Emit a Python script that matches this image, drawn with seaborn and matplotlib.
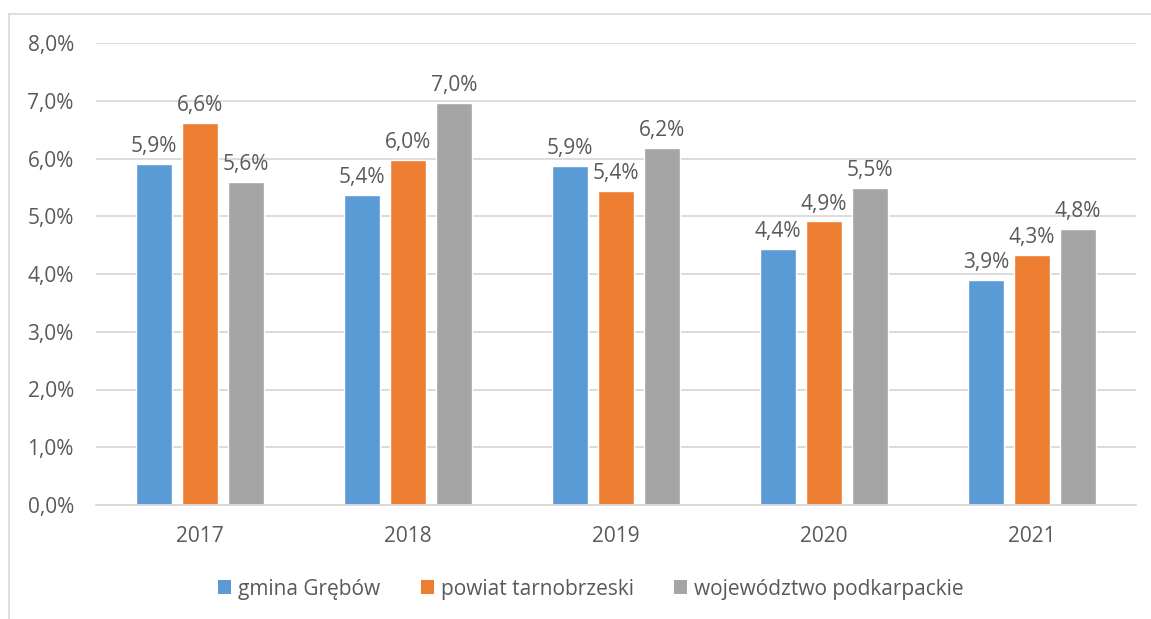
import matplotlib
matplotlib.use("Agg")
import matplotlib.pyplot as plt
import seaborn as sns
import pandas as pd
from matplotlib.lines import Line2D
from matplotlib.patches import Patch
from matplotlib.ticker import FuncFormatter, MultipleLocator

years = ["2017", "2018", "2019", "2020", "2021"]
series = ["gmina Grębów", "powiat tarnobrzeski", "województwo podkarpackie"]
gmina = [5.90, 5.37, 5.87, 4.43, 3.90]
powiat = [6.62, 5.97, 5.43, 4.91, 4.33]
wojewodztwo = [5.59, 6.96, 6.18, 5.49, 4.78]
colors = ["#5B9BD5", "#ED7D31", "#A5A5A5"]

rows = []
for name, vals in zip(series, [gmina, powiat, wojewodztwo]):
    for y, v in zip(years, vals):
        rows.append({"rok": y, "seria": name, "wartosc": v})
df = pd.DataFrame(rows)

sns.set_theme(style="white")
plt.rcParams["font.family"] = ["Open Sans", "DejaVu Sans"]
txt = "#595959"
grid = "#D9D9D9"
fs = 15

fig = plt.figure(figsize=(11.51, 6.19), dpi=100)
ax = fig.add_axes([96 / 1151, 1 - 505 / 619, (1136 - 96) / 1151, (505 - 43) / 619])

sns.barplot(data=df, x="rok", y="wartosc", hue="seria", hue_order=series,
            palette=colors, width=0.664, gap=0.217, ax=ax, legend=False,
            saturation=1, errorbar=None)

ax.set_ylim(0, 8)
ax.yaxis.set_major_locator(MultipleLocator(1))
ax.yaxis.set_major_formatter(FuncFormatter(lambda v, p: f"{v:.1f}%".replace(".", ",")))
ax.grid(axis="y", color=grid, linewidth=1.3)
ax.set_axisbelow(True)
for s in ["top", "right", "left"]:
    ax.spines[s].set_visible(False)
ax.spines["bottom"].set_color(grid)
ax.spines["bottom"].set_linewidth(1.3)
ax.tick_params(axis="both", length=0, labelsize=fs, colors=txt)
ax.tick_params(axis="x", pad=15)
ax.tick_params(axis="y", pad=16)
ax.set_xlabel("")
ax.set_ylabel("")

for cont in ax.containers:
    labels = [f"{b.get_height():.1f}%".replace(".", ",") for b in cont]
    ax.bar_label(cont, labels=labels, padding=5, fontsize=fs, color=txt)

handles = [Patch(facecolor=c, edgecolor="none") for c in colors]
fig.legend(handles, series, loc="center", bbox_to_anchor=(591 / 1151, 1 - 589 / 619),
           ncol=3, frameon=False, fontsize=fs, labelcolor=txt,
           handlelength=0.62, handleheight=0.62, handletextpad=0.33, columnspacing=1.95)

fig.add_artist(Line2D([9 / 1151, 1], [1 - 14 / 619, 1 - 14 / 619], color=grid, linewidth=1.2,
                      transform=fig.transFigure))
fig.add_artist(Line2D([9 / 1151, 9 / 1151], [1 - 14 / 619, 0], color=grid, linewidth=1.2,
                      transform=fig.transFigure))

fig.savefig("out.png", dpi=100)
